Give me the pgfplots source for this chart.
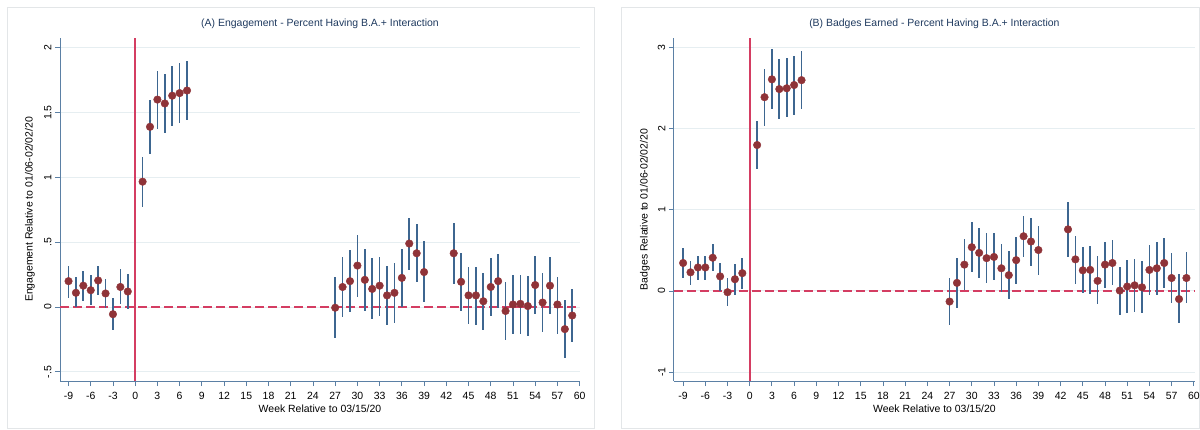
\documentclass[border=0pt]{standalone}
\usepackage{fontspec}
\setmainfont{Liberation Sans}
\usepackage{pgfplots}
\usepackage{pgfplotstable}
\pgfplotsset{compat=1.18}
\definecolor{mk}{HTML}{8F3338}
\definecolor{ci}{HTML}{3D6690}
\definecolor{axc}{HTML}{5B80A5}
\definecolor{refr}{HTML}{D43D62}
\definecolor{ttl}{HTML}{1F3A5F}
\definecolor{gridc}{HTML}{E6EEF1}
\definecolor{boxc}{HTML}{E3E6E8}

\pgfplotstableread{
x y lo hi
-9 0.20 0.07 0.32
-8 0.11 0.00 0.23
-7 0.165 0.05 0.28
-6 0.13 0.015 0.25
-5 0.205 0.09 0.32
-4 0.105 -0.01 0.22
-3 -0.055 -0.18 0.07
-2 0.155 0.02 0.29
-1 0.12 -0.015 0.255
1 0.967 0.77 1.16
2 1.39 1.18 1.60
3 1.60 1.37 1.82
4 1.57 1.34 1.80
5 1.63 1.40 1.86
6 1.65 1.42 1.88
7 1.67 1.44 1.90
27 -0.005 -0.24 0.23
28 0.155 -0.08 0.39
29 0.20 -0.04 0.44
30 0.32 0.08 0.555
31 0.21 -0.03 0.45
32 0.14 -0.095 0.38
33 0.165 -0.07 0.39
34 0.09 -0.14 0.32
35 0.11 -0.12 0.34
36 0.225 0.0 0.45
37 0.49 0.285 0.69
38 0.415 0.19 0.64
39 0.27 0.04 0.51
43 0.415 0.175 0.65
44 0.195 -0.03 0.42
45 0.09 -0.13 0.31
46 0.09 -0.135 0.31
47 0.045 -0.18 0.26
48 0.155 -0.065 0.38
49 0.20 -0.01 0.41
50 -0.03 -0.255 0.195
51 0.02 -0.21 0.25
52 0.025 -0.21 0.25
53 0.008 -0.225 0.24
54 0.17 -0.055 0.395
55 0.035 -0.19 0.26
56 0.165 -0.055 0.385
57 0.02 -0.205 0.235
58 -0.17 -0.39 0.055
59 -0.065 -0.27 0.14
}\dataA

\pgfplotstableread{
x y lo hi
-9 0.345 0.16 0.53
-8 0.23 0.08 0.37
-7 0.29 0.14 0.43
-6 0.29 0.14 0.43
-5 0.41 0.25 0.58
-4 0.18 0.0 0.35
-3 -0.015 -0.19 0.165
-2 0.145 -0.045 0.33
-1 0.22 0.025 0.41
1 1.80 1.50 2.10
2 2.39 2.04 2.74
3 2.61 2.25 2.98
4 2.49 2.12 2.86
5 2.50 2.14 2.87
6 2.54 2.17 2.90
7 2.60 2.24 2.96
27 -0.13 -0.42 0.165
28 0.10 -0.205 0.41
29 0.325 0.01 0.635
30 0.54 0.23 0.85
31 0.47 0.16 0.78
32 0.405 0.095 0.71
33 0.42 0.13 0.71
34 0.28 -0.015 0.575
35 0.195 -0.095 0.49
36 0.38 0.09 0.665
37 0.675 0.42 0.925
38 0.61 0.31 0.90
39 0.505 0.20 0.80
43 0.76 0.42 1.10
44 0.39 0.09 0.68
45 0.255 -0.03 0.54
46 0.26 -0.035 0.56
47 0.125 -0.165 0.43
48 0.325 0.035 0.61
49 0.345 0.07 0.625
50 0.005 -0.30 0.30
51 0.055 -0.27 0.38
52 0.07 -0.255 0.395
53 0.045 -0.27 0.365
54 0.26 -0.055 0.57
55 0.28 -0.045 0.605
56 0.345 0.035 0.655
57 0.16 -0.15 0.47
58 -0.10 -0.395 0.21
59 0.16 -0.15 0.475
}\dataB

\pgfplotsset{
  evstyle/.style={
    scale only axis,
    anchor=south west,
    font=\fontsize{10.5}{12.5}\selectfont,
    axis lines=left,
    axis line style={-, color=axc, line width=1pt},
    tick align=outside,
    major tick length=5bp,
    tick style={color=axc, line width=0.9pt},
    xtick={-9,-6,...,60},
    xticklabels={-9,-6,-3,0,3,6,9,12,15,18,21,24,27,30,33,36,39,42,45,48,51,54,57,60},
    ymajorgrids,
    grid style={color=gridc, line width=1pt},
    yticklabel style={rotate=90, anchor=south},
    xticklabel style={yshift=-2.5bp},
    clip=false,
    title style={color=ttl, font=\fontsize{10.5}{12.5}\selectfont},
    xlabel={Week Relative to 03/15/20},
  },
  refline/.style={color=refr, solid, line width=1.6pt, mark=none},
  refdash/.style={color=refr, line width=1.5pt, mark=none, dash pattern=on 9bp off 4bp},
}

\begin{document}
\begin{tikzpicture}
\useasboundingbox (0,0) rectangle (1200bp,430bp);
\draw[boxc, line width=0.6pt] (7bp,2bp) rectangle (594bp,423bp);
\draw[boxc, line width=0.6pt] (621bp,2bp) rectangle (1199.5bp,423bp);

% Panel A
\begin{axis}[evstyle,
  at={(60bp,49bp)}, width=520bp, height=343bp,
  xmin=-10.15, xmax=60.05, ymin=-0.57, ymax=2.075,
  ytick={-0.5,0,0.5,1,1.5,2},
  yticklabels={-.5,0,.5,1,1.5,2},
  ylabel={Engagement Relative to 01/06-02/02/20},
  ylabel style={at={(axis description cs:-0.0577,0.5)}, anchor=center},
  xlabel style={at={(axis description cs:0.5,-0.082)}, anchor=center},
  title={(A) Engagement - Percent Having B.A.+ Interaction},
  title style={at={(axis description cs:0.5,1.0233)}, anchor=center},
]
\addplot[refdash] coordinates {(-10.15,0) (60.05,0)};
\addplot[refline] coordinates {(0,-0.57) (0,2.075)};
\addplot[draw=none, mark=none,
  error bars/.cd, y dir=both, y explicit, error mark=none,
  error bar style={color=ci, line width=1.7pt}]
  table[x=x, y=y, y error plus expr=\thisrow{hi}-\thisrow{y}, y error minus expr=\thisrow{y}-\thisrow{lo}] {\dataA};
\addplot[only marks, mark=*, mark size=3.8bp, mark options={fill=mk, draw=mk}] table[x=x, y=y] {\dataA};
\end{axis}

% Panel B
\begin{axis}[evstyle,
  at={(673.8bp,49bp)}, width=521.2bp, height=343bp,
  xmin=-10.257, xmax=60.16, ymin=-1.11, ymax=3.12,
  ytick={-1,0,1,2,3},
  yticklabels={-1,0,1,2,3},
  ylabel={Badges Relative to 01/06-02/02/20},
  ylabel style={at={(axis description cs:-0.0553,0.5)}, anchor=center},
  xlabel style={at={(axis description cs:0.5,-0.082)}, anchor=center},
  title={(B) Badges Earned - Percent Having B.A.+ Interaction},
  title style={at={(axis description cs:0.5,1.0233)}, anchor=center},
]
\addplot[refdash] coordinates {(-10.257,0) (60.16,0)};
\addplot[refline] coordinates {(0,-1.11) (0,3.12)};
\addplot[draw=none, mark=none,
  error bars/.cd, y dir=both, y explicit, error mark=none,
  error bar style={color=ci, line width=1.7pt}]
  table[x=x, y=y, y error plus expr=\thisrow{hi}-\thisrow{y}, y error minus expr=\thisrow{y}-\thisrow{lo}] {\dataB};
\addplot[only marks, mark=*, mark size=3.8bp, mark options={fill=mk, draw=mk}] table[x=x, y=y] {\dataB};
\end{axis}
\end{tikzpicture}
\end{document}
